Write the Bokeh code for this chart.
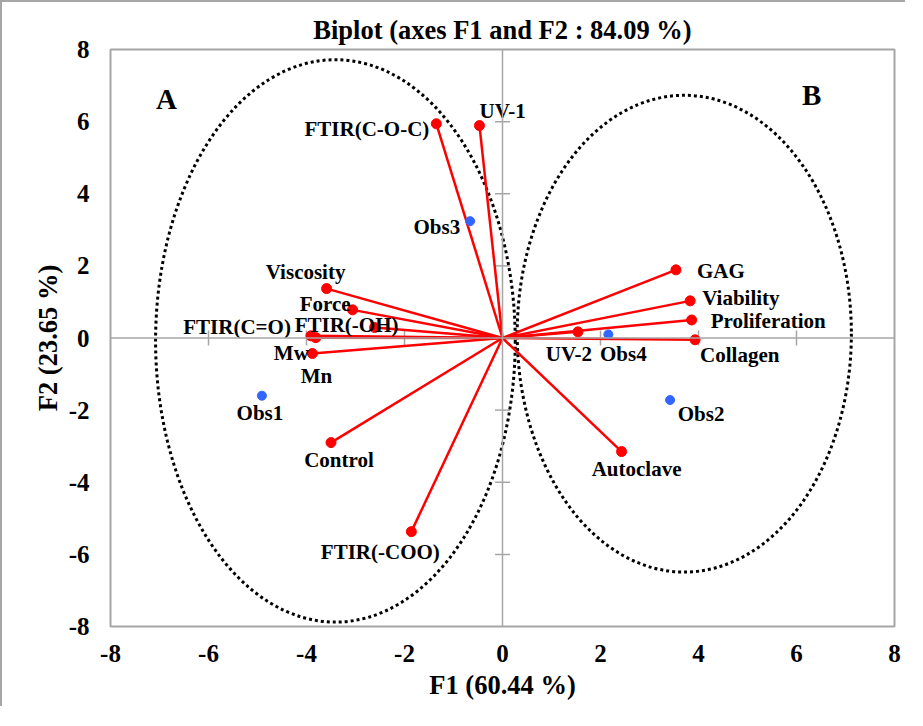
import math
from bokeh.plotting import figure
from bokeh.models import Span, FixedTicker, ColumnDataSource
from bokeh.core.properties import value
from bokeh.embed import file_html
from bokeh.resources import INLINE

# ---------------- data ----------------
TITLE = "Biplot (axes F1 and F2 : 84.09 %)"
X_TITLE = "F1 (60.44 %)"
Y_TITLE = "F2 (23.65 %)"
TICKS = [-8, -6, -4, -2, 0, 2, 4, 6, 8]
TICK_LABELS = ["-8", "-6", "-4", "-2", "0", "2", "4", "6", "8"]

VAR_NAMES = ["FTIR(C-O-C)", "UV-1", "Viscosity", "Force", "FTIR(-OH)", "FTIR(C=O)",
             "Mw", "Mn", "Control", "FTIR(-COO)", "GAG", "Viability",
             "Proliferation", "Collagen", "UV-2", "Autoclave"]
VAR_F1 = [-1.35, -0.47, -3.59, -3.06, -2.61, -3.91, -3.81, -3.88, -3.50, -1.86,
          3.54, 3.83, 3.86, 3.93, 1.54, 2.43]
VAR_F2 = [5.94, 5.89, 1.37, 0.78, 0.29, 0.06, 0.01, -0.43, -2.90, -5.37,
          1.89, 1.03, 0.50, -0.05, 0.17, -3.15]

OBS_NAMES = ["Obs1", "Obs2", "Obs3", "Obs4"]
OBS_F1 = [-4.91, 3.42, -0.66, 2.16]
OBS_F2 = [-1.60, -1.72, 3.24, 0.10]

GROUP_NAMES = ["A", "B"]
GROUP_CX = [-3.41, 3.71]
GROUP_CY = [-0.08, 0.12]
GROUP_W = [7.34, 6.82]
GROUP_H = [15.6, 13.22]
GROUP_LX = [-6.86, 6.31]
GROUP_LY = [6.64, 6.75]

# label placement: name -> (align, dx px, dy px; dy positive = down)
LABEL_LAYOUT = {
    "FTIR(C-O-C)": ("right", -7, 5),
    "UV-1": ("left", 0, -15),
    "Viscosity": ("center", -21, -17),
    "Force": ("right", -2, -6),
    "FTIR(-OH)": ("center", -28, -3),
    "FTIR(C=O)": ("right", -20, -9),
    "Mw": ("right", -7, 15),
    "Mn": ("center", 4, 22),
    "Control": ("center", 8, 17),
    "FTIR(-COO)": ("center", -31, 20),
    "GAG": ("left", 21, 1),
    "Viability": ("left", 12, -3),
    "Proliferation": ("left", 19, 1),
    "Collagen": ("left", 5, 15),
    "UV-2": ("center", -9, 22),
    "Autoclave": ("center", 15, 17),
    "Obs1": ("center", -2, 17),
    "Obs2": ("center", 31, 14),
    "Obs3": ("right", -10, 6),
    "Obs4": ("center", 15, 20),
}

FONT = "Liberation Serif"
GRAY = "#a6a6a6"
RED = "#ff0000"
BLUE = "#3366ff"

p = figure(width=905, height=706, x_range=(-8, 8), y_range=(-8, 8),
           output_backend="svg", toolbar_location=None, title=TITLE,
           min_border_left=108, min_border_right=13, min_border_top=47,
           min_border_bottom=82)
p.styles = {"border-left": "2px solid " + GRAY, "border-top": "2px solid " + GRAY}
p.grid.visible = False
p.outline_line_color = GRAY
p.outline_line_width = 2

p.title.text_font = FONT
p.title.text_font_size = "26.5px"
p.title.text_font_style = "bold"
p.title.align = "center"
p.title.text_color = "black"

overrides = {t: lab for t, lab in zip(TICKS, TICK_LABELS)}
for ax in (p.xaxis[0], p.yaxis[0]):
    ax.ticker = FixedTicker(ticks=TICKS)
    ax.major_label_overrides = overrides
    ax.axis_line_color = None
    ax.major_tick_line_color = None
    ax.minor_tick_line_color = None
    ax.major_tick_in = 0
    ax.major_tick_out = 0
    ax.minor_tick_in = 0
    ax.minor_tick_out = 0
    ax.major_label_text_font = FONT
    ax.major_label_text_font_size = "25px"
    ax.major_label_text_font_style = "bold"
    ax.major_label_text_color = "black"
    ax.axis_label_text_font = FONT
    ax.axis_label_text_font_size = "26.5px"
    ax.axis_label_text_font_style = "bold"
    ax.axis_label_text_color = "black"

p.xaxis.axis_label = X_TITLE
p.yaxis.axis_label = Y_TITLE
p.xaxis.major_label_standoff = 18
p.yaxis.major_label_standoff = 21
p.xaxis.axis_label_standoff = 5
p.yaxis.axis_label_standoff = 3

# centre axes
p.add_layout(Span(location=0, dimension="height", line_color=GRAY, line_width=1.5))
p.add_layout(Span(location=0, dimension="width", line_color=GRAY, line_width=1.5))
inner = [t for t in TICKS[1:-1] if t != 0]
p.scatter(x=inner, y=[0] * len(inner), marker="dash", size=15, angle=math.pi / 2,
          line_color=GRAY, line_width=1.5)
p.scatter(x=[0] * len(inner), y=inner, marker="dash", size=15,
          line_color=GRAY, line_width=1.5)

# group ellipses
p.ellipse(x=GROUP_CX, y=GROUP_CY, width=GROUP_W, height=GROUP_H,
          fill_color=None, line_color="black", line_width=3, line_dash="3 3")
p.text(x=GROUP_LX, y=GROUP_LY, text=GROUP_NAMES, text_font=value(FONT),
       text_font_style="bold", text_font_size="29px", text_align="center",
       text_baseline="middle", text_color="black")

# variable vectors
n = len(VAR_NAMES)
p.segment(x0=[0] * n, y0=[0] * n, x1=VAR_F1, y1=VAR_F2, line_color=RED, line_width=2.5)
p.scatter(x=VAR_F1, y=VAR_F2, size=10, color=RED)
p.scatter(x=OBS_F1, y=OBS_F2, size=9, color=BLUE)

# labels
names = VAR_NAMES + OBS_NAMES
xs = VAR_F1 + OBS_F1
ys = VAR_F2 + OBS_F2
for align in ("left", "center", "right"):
    sel = [i for i, nm in enumerate(names) if LABEL_LAYOUT[nm][0] == align]
    src = ColumnDataSource(dict(
        x=[xs[i] for i in sel], y=[ys[i] for i in sel],
        t=[names[i] for i in sel],
        dx=[LABEL_LAYOUT[names[i]][1] for i in sel],
        dy=[LABEL_LAYOUT[names[i]][2] for i in sel]))
    p.text(x="x", y="y", text="t", x_offset="dx", y_offset="dy", source=src,
           text_font=value(FONT), text_font_style="bold", text_font_size="21px",
           text_align=align, text_baseline="middle", text_color="black")

open("out.html", "w").write(file_html(p, INLINE))
